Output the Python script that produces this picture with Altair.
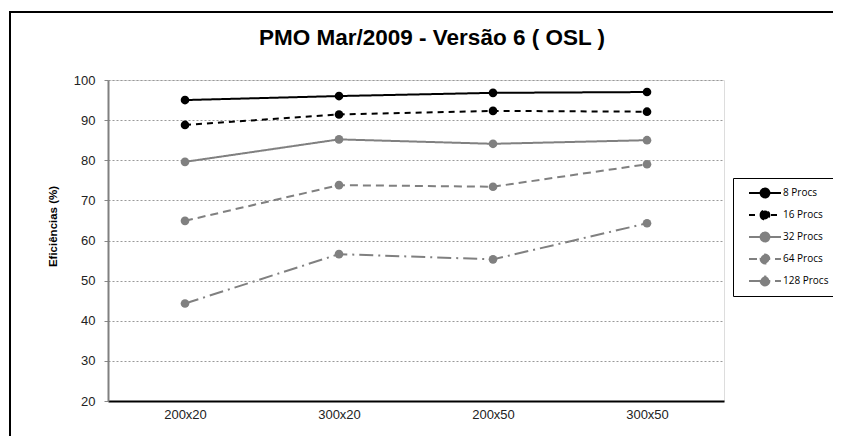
import altair as alt
import pandas as pd

categories = ["200x20", "300x20", "200x50", "300x50"]
series = ["8 Procs", "16 Procs", "32 Procs", "64 Procs", "128 Procs"]
values = {
    "8 Procs":   [95.0, 96.0, 96.8, 97.0],
    "16 Procs":  [88.8, 91.4, 92.3, 92.1],
    "32 Procs":  [79.6, 85.2, 84.1, 85.0],
    "64 Procs":  [64.9, 73.8, 73.4, 79.0],
    "128 Procs": [44.3, 56.6, 55.3, 64.3],
}
colors = ["#000000", "#000000", "#808080", "#808080", "#808080"]
dashes = [[1, 0], [6, 5], [1, 0], [8, 5], [14, 5, 2, 5]]

rows = []
for s in series:
    for c, v in zip(categories, values[s]):
        rows.append({"cat": c, "series": s, "value": v})
df = pd.DataFrame(rows)

x = alt.X("cat:N", sort=categories, title=None,
          scale=alt.Scale(paddingInner=0, paddingOuter=0),
          axis=alt.Axis(labelAngle=0, ticks=False, labelFontSize=13,
                        labelFont="Liberation Sans", labelColor="#222",
                        labelPadding=7, domainColor="#000", domainWidth=2))
y = alt.Y("value:Q", title="Eficiências (%)",
          scale=alt.Scale(domain=[20, 100], nice=False),
          axis=alt.Axis(values=list(range(20, 101, 10)), tickSize=4,
                        tickColor="#888", labelPadding=9, labelFontSize=13,
                        labelFont="Liberation Sans", labelColor="#222",
                        titleFont="Liberation Sans", titleFontSize=11.5,
                        titleFontWeight="bold", titlePadding=15,
                        titleY=146, titleColor="#000",
                        domainColor="#808080", domainWidth=2,
                        gridColor="#999", gridDash=[2, 2], gridWidth=1))

legend = alt.Legend(
    title=None, orient="none", legendX=625, legendY=98,
    strokeColor="#000", padding=6, fillColor="white",
    symbolType="M-2,0H2M-0.55,0A0.55,0.55 0 1,0 0.55,0A0.55,0.55 0 1,0 -0.55,0",
    symbolSize=256, symbolStrokeWidth=2, symbolOffset=17,
    labelFont="Open Sans", labelFontSize=10, labelColor="#000",
    labelOffset=9, rowPadding=4,
)

color = alt.Color("series:N", sort=series,
                  scale=alt.Scale(domain=series, range=colors), legend=legend)
dash = alt.StrokeDash("series:N", sort=series,
                      scale=alt.Scale(domain=series, range=dashes), legend=legend)

frame = alt.Chart(pd.DataFrame({"a": [0]})).mark_rect(
    fill="transparent", stroke="#000", strokeWidth=2, clip=False
).encode(x=alt.value(-98), x2=alt.value(1000), y=alt.value(-68), y2=alt.value(1000))

lines = alt.Chart(df).mark_line(
    strokeWidth=2,
    point=alt.OverlayMarkDef(filled=True, size=75, opacity=1),
).encode(x=x, y=y, color=color, strokeDash=dash, detail="series:N")

chart = alt.layer(frame, lines).properties(
    width=616, height=321,
    title=alt.TitleParams("PMO Mar/2009 - Versão 6 ( OSL )",
                          font="Liberation Sans", fontSize=22.5,
                          fontWeight="bold", color="#000", offset=-38, dx=16),
    autosize=alt.AutoSizeParams(type="none"),
    padding={"left": 100, "top": 72, "right": 109, "bottom": 35},
).configure_view(stroke="#000", strokeWidth=1.5).configure(background="white")

chart.save("out.html", embed_options={"renderer": "svg", "actions": False})
